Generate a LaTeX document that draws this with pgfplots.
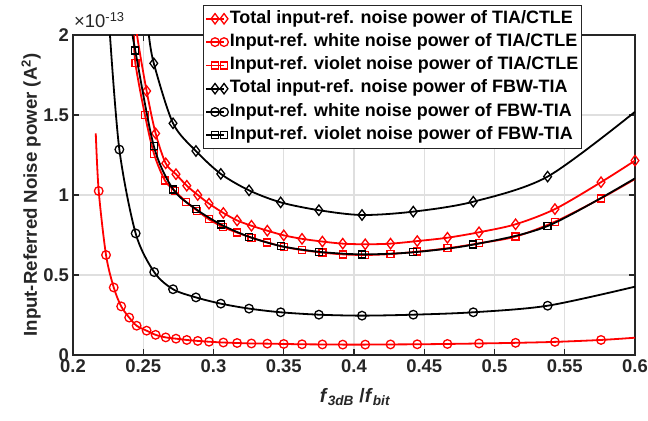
\documentclass[border=0pt]{standalone}
\usepackage{fontspec}
\setmainfont{Liberation Sans}
\usepackage{pgfplots}
\pgfplotsset{compat=1.18}
\definecolor{axgray}{RGB}{38,38,38}
\definecolor{gridgray}{RGB}{223,223,223}
\begin{document}
\begin{tikzpicture}
\useasboundingbox (-73bp,-66bp) rectangle (575bp,355bp);
\begin{axis}[
  at={(0,0)}, anchor=south west,
  scale only axis, width=562bp, height=320bp,
  clip mode=individual,
  xmin=0.2, xmax=0.6, ymin=0, ymax=2,
  xtick={0.2,0.25,0.3,0.35,0.4,0.45,0.5,0.55,0.6},
  xticklabels={0.2,0.25,0.3,0.35,0.4,0.45,0.5,0.55,0.6},
  ytick={0,0.5,1,1.5,2},
  yticklabels={0,0.5,1,1.5,2},
  /pgf/number format/assume math mode=true,
  grid=major,
  major grid style={gridgray, line width=1.2bp},
  axis line style={axgray, line width=1.7bp},
  tick style={axgray, line width=1.4bp},
  tick align=inside, major tick length=6bp,
  tick label style={font=\fontsize{18.5}{21}\selectfont\bfseries, text=axgray},
  xticklabel style={yshift=-1bp},
  yticklabel style={xshift=-0.5bp},
  xlabel={\textit{f}\textsubscript{\textit{3dB}} /\textit{f}\textsubscript{\textit{bit}}},
  xlabel style={font=\fontsize{19.5}{22}\selectfont\bfseries, text=axgray, at={(axis description cs:0.502,-0.147)}, anchor=base},
  ylabel={Input-Referred Noise power (A\textsuperscript{2})},
  ylabel style={font=\fontsize{18.7}{22}\selectfont\bfseries, text=axgray, at={(axis description cs:-0.0747,0.5)}, anchor=center},
  legend style={at={(axis description cs:0.2313,1.09375)}, anchor=north west,
    draw=axgray, line width=1.3bp, fill=white,
    font=\fontsize{18}{20}\selectfont\bfseries,
    inner sep=1.5bp, row sep=0bp,
    nodes={text height=12.5bp, text depth=4bp, inner ysep=3.4bp, inner xsep=1.5bp}},
  legend cell align=left,
  legend image code/.code={\draw[mark repeat=2,mark phase=2,#1] plot coordinates {(0bp,0bp) (9bp,0bp) (18bp,0bp)};},
  every axis plot/.append style={line width=1.8bp, smooth, mark options={solid, fill=white, line width=1.3bp}},
]
% Total input-ref. noise power of TIA/CTLE
\addplot[red, mark=diamond, mark size=5.2bp, mark indices={2,...,25}] coordinates {
(0.2430,2.25) (0.2456,2.0) (0.2524,1.65) (0.2588,1.385) (0.2660,1.198) (0.2733,1.130)
(0.2810,1.058) (0.2888,1.000) (0.2968,0.946) (0.3070,0.888) (0.3168,0.841)
(0.3270,0.808) (0.3383,0.777) (0.3500,0.748) (0.3630,0.726) (0.3775,0.709)
(0.3920,0.696) (0.4080,0.692) (0.4260,0.696) (0.4450,0.712) (0.4665,0.733)
(0.4890,0.767) (0.5150,0.817) (0.5430,0.912) (0.5758,1.080) (0.6000,1.215)};
\addlegendentry{Total input-ref. noise power of TIA/CTLE}
% Input-ref. white noise power of TIA/CTLE
\addplot[red, mark=o, mark size=4.3bp, mark indices={2,...,30}] coordinates {
(0.2162,1.385) (0.2183,1.025) (0.2235,0.625) (0.2290,0.422) (0.2343,0.304)
(0.2400,0.234) (0.2453,0.183) (0.2524,0.152) (0.2588,0.126) (0.2660,0.110)
(0.2733,0.102) (0.2810,0.094) (0.2888,0.088) (0.2968,0.083) (0.3070,0.078)
(0.3168,0.075) (0.3270,0.072) (0.3383,0.071) (0.3500,0.069) (0.3630,0.067)
(0.3775,0.066) (0.3920,0.065) (0.4080,0.065) (0.4260,0.066) (0.4450,0.067)
(0.4665,0.069) (0.4890,0.072) (0.5150,0.076) (0.5430,0.082) (0.5758,0.094)
(0.6000,0.108)};
\addlegendentry{Input-ref. white noise power of TIA/CTLE}
% Input-ref. violet noise power of TIA/CTLE
\addplot[red, mark=square, mark size=3.5bp, mark indices={2,...,25}] coordinates {
(0.2434,2.0) (0.2444,1.823) (0.2512,1.500) (0.2577,1.256) (0.2655,1.090) (0.2726,1.025)
(0.2804,0.958) (0.2885,0.902) (0.2968,0.848) (0.3070,0.799) (0.3168,0.765)
(0.3270,0.733) (0.3383,0.704) (0.3500,0.676) (0.3630,0.656) (0.3775,0.640)
(0.3920,0.629) (0.4080,0.625) (0.4260,0.631) (0.4450,0.646) (0.4665,0.667)
(0.4890,0.698) (0.5150,0.740) (0.5430,0.833) (0.5758,0.979) (0.6000,1.100)};
\addlegendentry{Input-ref. violet noise power of TIA/CTLE}
% Total input-ref. noise power of FBW-TIA
\addplot[black, mark=diamond, mark size=5.2bp, mark indices={2,...,12}] coordinates {
(0.2540,2.0) (0.2575,1.823) (0.2712,1.448) (0.2875,1.275) (0.3052,1.132)
(0.3253,1.029) (0.3478,0.954) (0.3750,0.905) (0.4057,0.875) (0.4422,0.896)
(0.4849,0.958) (0.5378,1.115) (0.6000,1.520)};
\addlegendentry{Total input-ref. noise power of FBW-TIA}
% Input-ref. white noise power of FBW-TIA
\addplot[black, mark=o, mark size=4.3bp, mark indices={2,...,14}] coordinates {
(0.2263,2.0) (0.2330,1.284) (0.2446,0.760) (0.2578,0.518) (0.2712,0.411)
(0.2875,0.360) (0.3052,0.321) (0.3253,0.290) (0.3478,0.267) (0.3750,0.252)
(0.4057,0.246) (0.4422,0.252) (0.4849,0.267) (0.5378,0.308) (0.6000,0.427)};
\addlegendentry{Input-ref. white noise power of FBW-TIA}
% Input-ref. violet noise power of FBW-TIA
\addplot[black, mark=square, mark size=3.5bp, mark indices={2,...,13}] coordinates {
(0.2424,2.0) (0.2443,1.904) (0.2575,1.306) (0.2713,1.035) (0.2875,0.912)
(0.3052,0.816) (0.3253,0.739) (0.3478,0.681) (0.3750,0.645) (0.4057,0.629)
(0.4422,0.642) (0.4849,0.690) (0.5378,0.806) (0.6000,1.104)};
\addlegendentry{Input-ref. violet noise power of FBW-TIA}
\node[anchor=base west, font=\fontsize{18.5}{21}\selectfont, text=axgray, inner sep=0pt]
  at ([shift={(1bp,7bp)}]rel axis cs:0,1) {×10\textsuperscript{-13}};
\end{axis}
\end{tikzpicture}
\end{document}
